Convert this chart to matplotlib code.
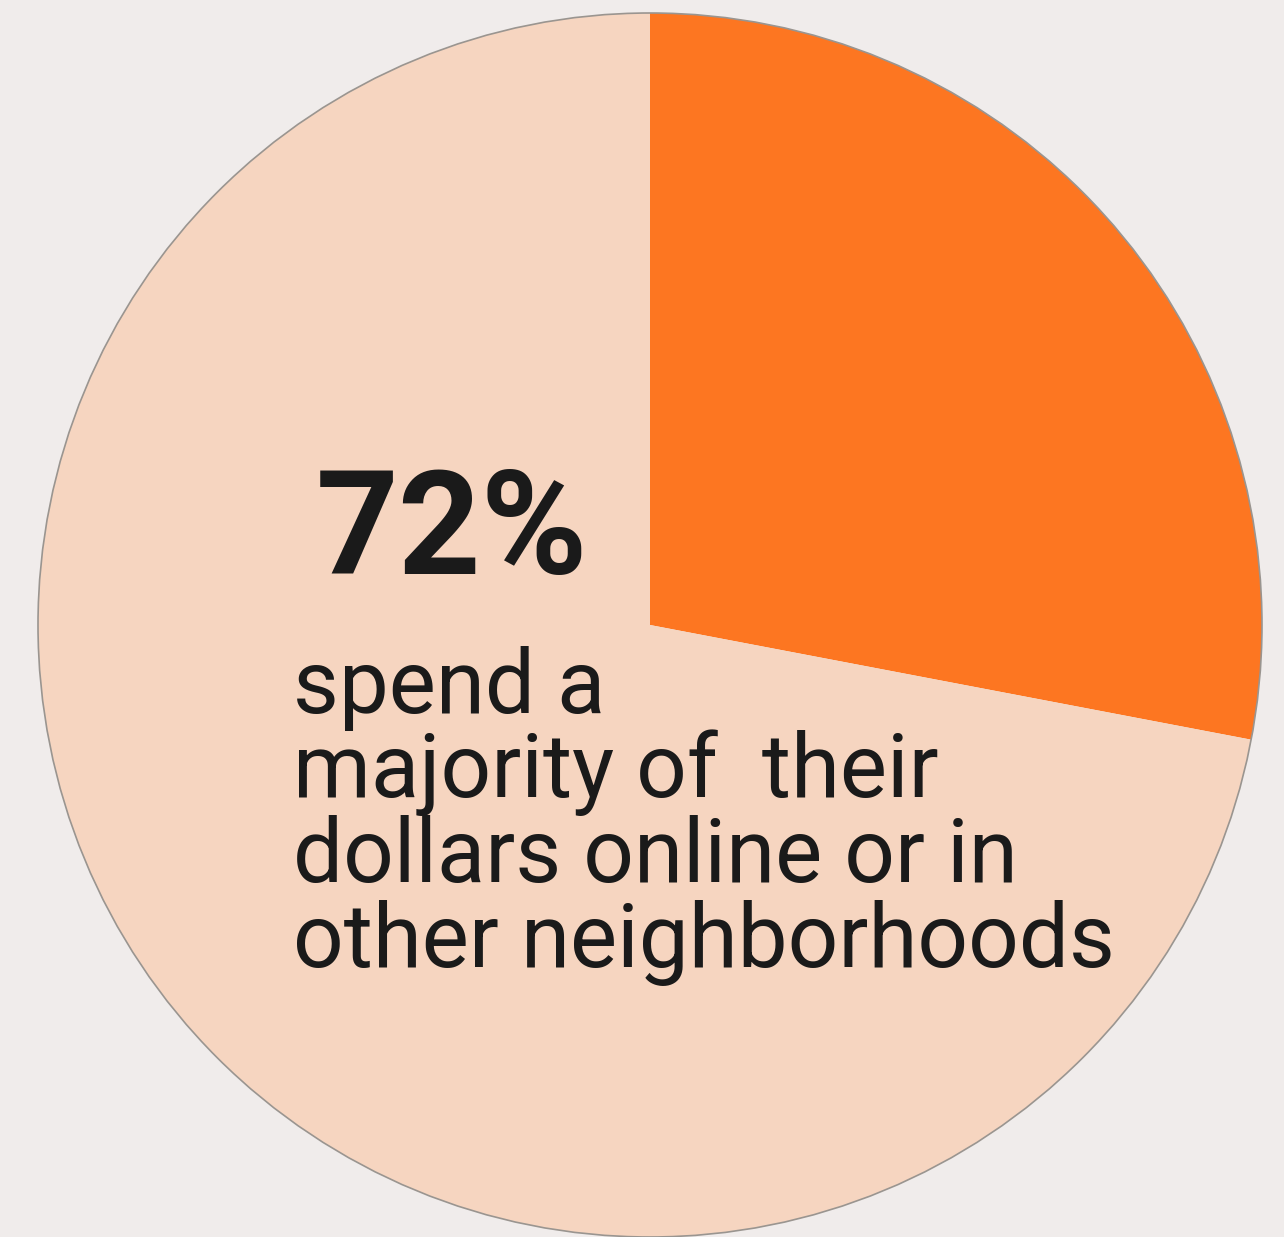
import matplotlib.pyplot as plt

W, H = 1284, 1237

labels = ['local', 'online or other neighborhoods']
shares = [28, 72]
colors = ['#FD7621', '#F6D5C0']

big_label = '72%'
lines = ['spend a', 'majority of  their', 'dollars online or in', 'other neighborhoods']

fig = plt.figure(figsize=(W / 100, H / 100), dpi=100)
fig.patch.set_facecolor('#F0ECEB')
ax = fig.add_axes([0, 0, 1, 1])

ax.pie(shares, colors=colors, startangle=90, counterclock=False,
       center=(650, H - 625), radius=612, frame=True,
       wedgeprops=dict(edgecolor='none'))
circle = plt.Circle((650, H - 625), 612, fill=False, edgecolor='#9a9590', linewidth=1.2)
ax.add_patch(circle)
ax.set_xlim(0, W)
ax.set_ylim(0, H)
ax.set_aspect('equal')
ax.axis('off')

ax.text(316, H - 574, big_label, fontsize=104, fontweight='bold', family='Roboto',
        color='#1a1a1a', ha='left', va='baseline')

baselines = [713, 797, 882, 967]
for txt, b in zip(lines, baselines):
    ax.text(293, H - b, txt, fontsize=64, family='Roboto', color='#1a1a1a',
            ha='left', va='baseline')

fig.savefig('out.png', dpi=100, facecolor=fig.get_facecolor())
